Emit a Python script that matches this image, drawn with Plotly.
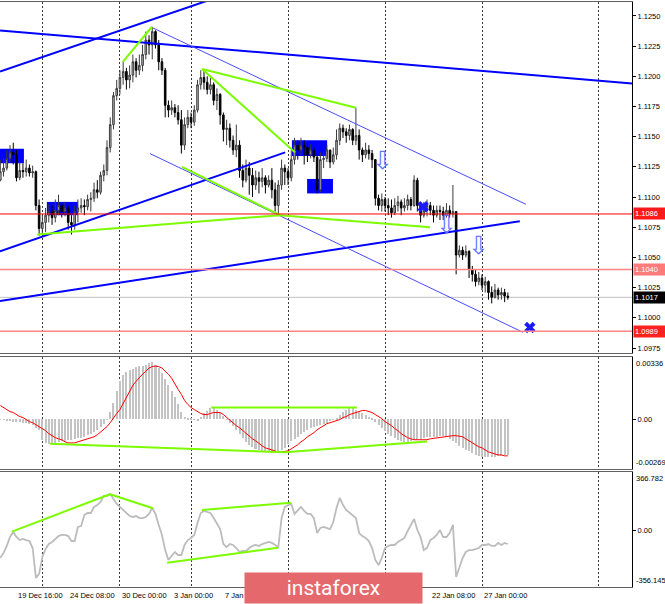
import plotly.graph_objects as go

# ---------------- data (EURUSD, H4 bars) ----------------
open_first = 1.1114
close = [
    1.1121, 1.1124, 1.1132, 1.1137, 1.1135, 1.1116, 1.1122, 1.1121, 1.1124, 1.1120,
    1.1121, 1.1093, 1.1074, 1.1079, 1.1085, 1.1088, 1.1083, 1.1089, 1.1093, 1.1088,
    1.1091, 1.1079, 1.1077, 1.1088, 1.1091, 1.1093, 1.1092, 1.1098, 1.1099, 1.1106,
    1.1104, 1.1118, 1.1122, 1.1141, 1.1160, 1.1184, 1.1190, 1.1199, 1.1204, 1.1197,
    1.1201, 1.1212, 1.1205, 1.1209, 1.1218, 1.1230, 1.1226, 1.1237, 1.1226, 1.1212,
    1.1205, 1.1176, 1.1172, 1.1174, 1.1170, 1.1164, 1.1143, 1.1160, 1.1166, 1.1162,
    1.1172, 1.1193, 1.1199, 1.1195, 1.1189, 1.1193, 1.1180, 1.1185, 1.1168, 1.1156,
    1.1157, 1.1147, 1.1139, 1.1143, 1.1122, 1.1114, 1.1124, 1.1118, 1.1110, 1.1116,
    1.1113, 1.1116, 1.1110, 1.1114, 1.1106, 1.1093, 1.1110, 1.1124, 1.1121, 1.1116,
    1.1131, 1.1143, 1.1139, 1.1143, 1.1141, 1.1135, 1.1139, 1.1133, 1.1106, 1.1131,
    1.1132, 1.1139, 1.1129, 1.1135, 1.1147, 1.1157, 1.1154, 1.1151, 1.1156, 1.1147,
    1.1151, 1.1139, 1.1135, 1.1139, 1.1136, 1.1131, 1.1099, 1.1093, 1.1098, 1.1093,
    1.1091, 1.1087, 1.1093, 1.1096, 1.1091, 1.1093, 1.1098, 1.1093, 1.1114, 1.1093,
    1.1085, 1.1089, 1.1093, 1.1089, 1.1085, 1.1089, 1.1088, 1.1085, 1.1089, 1.1086,
    1.1088, 1.1052, 1.1056, 1.1052, 1.1055, 1.1040, 1.1036, 1.1030, 1.1033, 1.1027,
    1.1030, 1.1021, 1.1017, 1.1023, 1.1019, 1.1021, 1.1018, 1.1017]
high = [
    1.1131, 1.1132, 1.1139, 1.1143, 1.1145, 1.1139, 1.1129, 1.1128, 1.1131, 1.1127,
    1.1126, 1.1122, 1.1098, 1.1085, 1.1091, 1.1094, 1.1093, 1.1098, 1.1102, 1.1095,
    1.1096, 1.1093, 1.1085, 1.1093, 1.1098, 1.1099, 1.1098, 1.1102, 1.1104, 1.1112,
    1.1114, 1.1121, 1.1127, 1.1147, 1.1166, 1.1187, 1.1197, 1.1205, 1.1212, 1.1207,
    1.1209, 1.1218, 1.1215, 1.1218, 1.1226, 1.1237, 1.1234, 1.1241, 1.1238, 1.1230,
    1.1215, 1.1207, 1.1180, 1.1180, 1.1177, 1.1176, 1.1172, 1.1166, 1.1172, 1.1170,
    1.1176, 1.1197, 1.1205, 1.1206, 1.1200, 1.1199, 1.1195, 1.1190, 1.1186, 1.1170,
    1.1164, 1.1161, 1.1151, 1.1160, 1.1147, 1.1127, 1.1131, 1.1129, 1.1124, 1.1122,
    1.1121, 1.1124, 1.1118, 1.1118, 1.1124, 1.1112, 1.1114, 1.1131, 1.1127, 1.1124,
    1.1139, 1.1149, 1.1147, 1.1149, 1.1147, 1.1145, 1.1144, 1.1141, 1.1135, 1.1137,
    1.1137, 1.1143, 1.1139, 1.1141, 1.1156, 1.1161, 1.1160, 1.1157, 1.1160, 1.1157,
    1.1174, 1.1156, 1.1141, 1.1145, 1.1143, 1.1139, 1.1131, 1.1102, 1.1103, 1.1100,
    1.1099, 1.1098, 1.1099, 1.1101, 1.1098, 1.1099, 1.1102, 1.1100, 1.1118, 1.1116,
    1.1093, 1.1096, 1.1098, 1.1096, 1.1093, 1.1093, 1.1093, 1.1092, 1.1095, 1.1093,
    1.1110, 1.1088, 1.1060, 1.1059, 1.1060, 1.1056, 1.1043, 1.1040, 1.1038, 1.1036,
    1.1034, 1.1031, 1.1026, 1.1028, 1.1025, 1.1025, 1.1024, 1.1021]
low = [
    1.1113, 1.1117, 1.1122, 1.1129, 1.1127, 1.1113, 1.1114, 1.1116, 1.1117, 1.1117,
    1.1116, 1.1089, 1.1068, 1.1069, 1.1071, 1.1079, 1.1077, 1.1079, 1.1085, 1.1083,
    1.1084, 1.1073, 1.1069, 1.1073, 1.1079, 1.1087, 1.1085, 1.1089, 1.1088, 1.1096,
    1.1099, 1.1102, 1.1113, 1.1118, 1.1137, 1.1156, 1.1180, 1.1185, 1.1193, 1.1189,
    1.1190, 1.1195, 1.1199, 1.1201, 1.1204, 1.1214, 1.1218, 1.1214, 1.1223, 1.1205,
    1.1201, 1.1166, 1.1166, 1.1168, 1.1166, 1.1160, 1.1136, 1.1139, 1.1157, 1.1157,
    1.1159, 1.1170, 1.1189, 1.1189, 1.1185, 1.1185, 1.1176, 1.1172, 1.1160, 1.1146,
    1.1143, 1.1141, 1.1135, 1.1133, 1.1116, 1.1108, 1.1112, 1.1102, 1.1100, 1.1106,
    1.1103, 1.1108, 1.1103, 1.1108, 1.1099, 1.1088, 1.1085, 1.1106, 1.1110, 1.1110,
    1.1113, 1.1127, 1.1131, 1.1135, 1.1127, 1.1129, 1.1132, 1.1129, 1.1103, 1.1104,
    1.1124, 1.1129, 1.1124, 1.1127, 1.1131, 1.1143, 1.1149, 1.1145, 1.1147, 1.1143,
    1.1143, 1.1131, 1.1129, 1.1132, 1.1131, 1.1124, 1.1093, 1.1089, 1.1088, 1.1088,
    1.1085, 1.1083, 1.1085, 1.1088, 1.1085, 1.1088, 1.1089, 1.1089, 1.1092, 1.1088,
    1.1079, 1.1083, 1.1084, 1.1085, 1.1079, 1.1083, 1.1081, 1.1081, 1.1083, 1.1083,
    1.1083, 1.1036, 1.1050, 1.1048, 1.1050, 1.1033, 1.1030, 1.1026, 1.1027, 1.1023,
    1.1021, 1.1015, 1.1012, 1.1016, 1.1015, 1.1015, 1.1013, 1.1015]

macd_hist = [
    -0.00002, -0.00002, -0.00008, -0.00008, -0.00013, -0.00013, -0.00013, -0.00019, -0.00019, -0.00024,
    -0.00029, -0.00046, -0.00057, -0.00111, -0.00128, -0.00133, -0.00133, -0.00128, -0.00122, -0.00117,
    -0.00117, -0.00111, -0.00111, -0.00106, -0.00100, -0.00100, -0.00095, -0.00084, -0.00078, -0.00068,
    -0.00057, -0.00040, -0.00024, -0.00002, 0.00041, 0.00090, 0.00150, 0.00205, 0.00238, 0.00254,
    0.00265, 0.00270, 0.00281, 0.00287, 0.00287, 0.00292, 0.00303, 0.00309, 0.00292, 0.00276,
    0.00249, 0.00216, 0.00183, 0.00150, 0.00118, 0.00080, 0.00041, 0.00014, 0.00003, 0.00003,
    -0.00002, -0.00008, 0.00014, 0.00031, 0.00047, 0.00058, 0.00063, 0.00052, 0.00036, 0.00020,
    -0.00002, -0.00019, -0.00035, -0.00057, -0.00078, -0.00100, -0.00122, -0.00138, -0.00149, -0.00160,
    -0.00166, -0.00171, -0.00177, -0.00177, -0.00182, -0.00182, -0.00177, -0.00166, -0.00155, -0.00133,
    -0.00117, -0.00106, -0.00095, -0.00078, -0.00068, -0.00057, -0.00046, -0.00040, -0.00035, -0.00029,
    -0.00024, -0.00019, -0.00008, -0.00002, 0.00009, 0.00025, 0.00041, 0.00052, 0.00058, 0.00063,
    0.00052, 0.00041, 0.00036, 0.00025, 0.00014, 0.00003, -0.00013, -0.00029, -0.00046, -0.00062,
    -0.00078, -0.00089, -0.00100, -0.00111, -0.00117, -0.00122, -0.00122, -0.00117, -0.00111, -0.00111,
    -0.00106, -0.00100, -0.00095, -0.00095, -0.00095, -0.00095, -0.00089, -0.00089, -0.00095, -0.00106,
    -0.00117, -0.00128, -0.00144, -0.00155, -0.00166, -0.00171, -0.00182, -0.00193, -0.00198, -0.00204,
    -0.00204, -0.00204, -0.00204, -0.00204, -0.00198, -0.00198, -0.00193, -0.00193]
macd_signal = [
    0.00074, 0.00063, 0.00052, 0.00041, 0.00036, 0.00025, 0.00014, 0.00009, -0.00002, -0.00013,
    -0.00019, -0.00029, -0.00040, -0.00051, -0.00062, -0.00078, -0.00089, -0.00100, -0.00106, -0.00111,
    -0.00122, -0.00128, -0.00128, -0.00128, -0.00122, -0.00117, -0.00111, -0.00106, -0.00100, -0.00095,
    -0.00084, -0.00068, -0.00057, -0.00040, -0.00019, 0.00009, 0.00031, 0.00052, 0.00085, 0.00118,
    0.00156, 0.00183, 0.00205, 0.00227, 0.00243, 0.00259, 0.00276, 0.00284, 0.00287, 0.00284,
    0.00276, 0.00259, 0.00243, 0.00221, 0.00189, 0.00161, 0.00134, 0.00101, 0.00080, 0.00063,
    0.00052, 0.00041, 0.00031, 0.00025, 0.00025, 0.00031, 0.00036, 0.00036, 0.00036, 0.00025,
    0.00009, -0.00002, -0.00019, -0.00035, -0.00046, -0.00062, -0.00078, -0.00089, -0.00106, -0.00117,
    -0.00133, -0.00144, -0.00155, -0.00160, -0.00166, -0.00171, -0.00177, -0.00177, -0.00174, -0.00171,
    -0.00160, -0.00149, -0.00138, -0.00122, -0.00111, -0.00095, -0.00084, -0.00073, -0.00057, -0.00046,
    -0.00035, -0.00024, -0.00019, -0.00013, -0.00008, -0.00002, 0.00009, 0.00014, 0.00025, 0.00031,
    0.00036, 0.00041, 0.00047, 0.00047, 0.00041, 0.00036, 0.00025, 0.00014, 0.00003, -0.00013,
    -0.00024, -0.00035, -0.00051, -0.00062, -0.00078, -0.00089, -0.00100, -0.00106, -0.00111, -0.00111,
    -0.00111, -0.00111, -0.00111, -0.00106, -0.00103, -0.00100, -0.00098, -0.00095, -0.00095, -0.00092,
    -0.00089, -0.00089, -0.00092, -0.00095, -0.00106, -0.00117, -0.00128, -0.00138, -0.00149, -0.00155,
    -0.00166, -0.00177, -0.00182, -0.00187, -0.00193, -0.00193, -0.00198, -0.00198]
cci = [
    -174, -142, -98, -42, -10, -42, -61, -54, -61, -67,
    -111, -299, -274, -168, -117, -86, -73, -54, -36, -29,
    -29, -36, -67, -67, 21, 27, 96, 109, 109, 147,
    159, 178, 216, 216, 228, 197, 166, 147, 128, 109,
    90, 84, 90, 77, 77, 84, 103, 141, 103, 34,
    -29, -124, -186, -161, -136, -155, -155, -92, -61, -48,
    -29, 46, 109, 122, 116, 109, 77, 40, 8, -86,
    -105, -86, -92, -111, -136, -130, -130, -111, -98, -92,
    -98, -86, -79, -73, -79, -92, -105, 77, 147, 159,
    166, 103, 128, 147, 122, 103, 103, 77, -17, 15,
    21, 15, 8, 52, 141, 204, 159, 128, 109, 90,
    77, -17, -36, -48, -67, -111, -186, -218, -174, -111,
    -98, -92, -92, -73, -61, -48, -4, 34, 72, 2,
    -42, -124, -111, -61, -48, -29, 2, -42, -42, -17,
    34, -293, -237, -174, -136, -124, -124, -117, -111, -92,
    -92, -86, -98, -98, -79, -92, -79, -86]

assert len(close) == len(high) == len(low) == len(macd_hist) == len(macd_signal) == len(cci)

# time axis (bar index): visible time labels and weekly grid
date_bars = [-11, 5, 21, 37, 53, 69, 133, 149]
date_labels = ["17 Dec 00:00", "19 Dec 16:00", "24 Dec 08:00", "30 Dec 00:00", "3 Jan 00:00",
               "7 Jan 16:00", "22 Jan 08:00", "27 Jan 00:00"]
grid_bars = [13, 37, 59, 89, 119, 149, 185]
x_range = [-0.1, 195.4]

price_ticks = [1.0975, 1.1000, 1.1025, 1.1050, 1.1075, 1.1100, 1.1125,
               1.1150, 1.1175, 1.1200, 1.1225, 1.1250]
price_range = [1.09709, 1.12615]
macd_range = [-0.00269, 0.00336]
cci_range = [-356.145, 366.782]

levels = [1.1086, 1.1040, 1.0989]
level_colors = ["#ff0000", "#ff8585", "#ff8585"]
level_label_bg = ["#ff1a1a", "#ff7a7a", "#ff2020"]
last_price = 1.1017

# analysis objects (bar index, price)
blue_thick = [[(-0.1, 1.1204), (70, 1.1268)],
              [(-0.1, 1.1238), (195.4, 1.1194)],
              [(-0.1, 1.1055), (88.1, 1.1137)],
              [(-0.1, 1.1014), (160.7, 1.1080)]]
blue_thin = [[(47.2, 1.1240), (162.6, 1.1094)],
             [(46.3, 1.1136), (161.7, 1.0988)]]
green_main = [[(37.9, 1.1212), (46.9, 1.1241)],
              [(62.4, 1.1206), (110.0, 1.1174)],
              [(62.4, 1.1206), (91.2, 1.1137)],
              [(56.2, 1.1125), (86.5, 1.1085)],
              [(11.4, 1.1069), (86.5, 1.1085), (132.9, 1.1075)]]
blue_zones = [(-0.1, 7.3, 1.1128, 1.1140), (14.4, 24.0, 1.1085, 1.1096),
              (90.2, 101.1, 1.1134, 1.1147), (94.9, 102.9, 1.1103, 1.1115)]
down_arrows = [(118.2, 1.1130), (137.9, 1.1077), (147.8, 1.1060)]
cross_marks = [(130.8, 1.1092), (163.8, 1.0992)]
green_macd = [[(65.2, 0.00063), (110.3, 0.00063)],
              [(15.4, -0.00133), (88.1, -0.00179), (132.0, -0.00121)]]
green_cci = [[(3.6, -8), (33.9, 227)],
             [(33.9, 227), (47.2, 139)],
             [(62.4, 128), (89.9, 174)],
             [(51.6, -203), (85.9, -109)]]

# ---------------- figure ----------------
bars = list(range(len(close)))
opens = [open_first] + close[:-1]
FONT = "Liberation Sans, Arial, sans-serif"
GREEN = "#7CFC00"

fig = go.Figure()

fig.add_trace(go.Candlestick(
    x=bars, open=opens, high=high, low=low, close=close,
    increasing=dict(line=dict(color="#3c3c3c", width=1), fillcolor="#bdbdbd"),
    decreasing=dict(line=dict(color="#000000", width=1), fillcolor="#000000"),
    xaxis="x", yaxis="y", hoverinfo="skip"))

def add_lines(groups, color, width, xa, ya):
    for g in groups:
        fig.add_trace(go.Scatter(x=[p[0] for p in g], y=[p[1] for p in g], mode="lines",
                                 line=dict(color=color, width=width), xaxis=xa, yaxis=ya,
                                 hoverinfo="skip"))

add_lines(blue_thick, "#0000ff", 2, "x", "y")
add_lines(blue_thin, "#4a4aff", 1, "x", "y")
add_lines(green_main, GREEN, 2, "x", "y")

fig.add_trace(go.Scatter(x=[c[0] for c in cross_marks], y=[c[1] for c in cross_marks],
                         mode="markers", marker=dict(symbol="x", size=10, color="#1a1aff"),
                         xaxis="x", yaxis="y", hoverinfo="skip", cliponaxis=False))

# MACD panel
fig.add_trace(go.Bar(x=bars, y=macd_hist, width=0.62, marker=dict(color="#c3c3c3", line=dict(width=0)),
                     xaxis="x2", yaxis="y2", hoverinfo="skip"))
fig.add_trace(go.Scatter(x=bars, y=macd_signal, mode="lines", line=dict(color="#ff0000", width=1),
                         xaxis="x2", yaxis="y2", hoverinfo="skip"))
add_lines(green_macd, GREEN, 2, "x2", "y2")

# CCI panel
fig.add_trace(go.Scatter(x=bars, y=cci, mode="lines", line=dict(color="#bcbcbc", width=1.8),
                         xaxis="x3", yaxis="y3", hoverinfo="skip"))
add_lines(green_cci, GREEN, 2, "x3", "y3")

shapes = []
for x0, x1, y0, y1 in blue_zones:
    shapes.append(dict(type="rect", xref="x", yref="y", x0=x0, x1=x1, y0=y0, y1=y1,
                       fillcolor="#0000ff", line=dict(width=0), layer="below"))
shapes.append(dict(type="line", xref="x domain", yref="y", x0=0, x1=1, y0=last_price, y1=last_price,
                   line=dict(color="#c0c0c0", width=1), layer="below"))
for lv, col in zip(levels, level_colors):
    shapes.append(dict(type="line", xref="x domain", yref="y", x0=0, x1=1, y0=lv, y1=lv,
                       line=dict(color=col, width=1.5 if col != "#ff0000" else 1)))

annotations = []
for a in down_arrows:
    annotations.append(dict(x=a[0], y=a[1], xref="x", yref="y", text="⇩", showarrow=False,
                            font=dict(family="DejaVu Sans", size=25, color="#5f78ff")))
for lv, bg in zip(levels, level_label_bg):
    annotations.append(dict(x=1, y=lv, xref="paper", yref="y", xanchor="left", xshift=1,
                            text=f"{lv:.4f}", showarrow=False, bgcolor=bg, borderpad=1,
                            width=31, align="left", font=dict(family=FONT, size=7.5, color="white")))
annotations.append(dict(x=1, y=last_price, xref="paper", yref="y", xanchor="left", xshift=1,
                        text=f"{last_price:.4f}", showarrow=False, bgcolor="#000000", borderpad=1,
                        width=31, align="left", font=dict(family=FONT, size=7.5, color="white")))
# indicator scale extremes
for txt, yref, yv, ya in [(f"{macd_range[1]:.5f}", "y2 domain", 1, "top"),
                          (f"{macd_range[0]:.5f}", "y2 domain", 0, "bottom"),
                          (f"{cci_range[1]:.3f}", "y3 domain", 1, "top"),
                          (f"{cci_range[0]:.3f}", "y3 domain", 0, "bottom")]:
    annotations.append(dict(x=1, y=yv, xref="paper", yref=yref, xanchor="left", yanchor=ya,
                            xshift=2, text=txt, showarrow=False,
                            font=dict(family=FONT, size=7.5, color="#000")))
# time labels
for b, lab in zip(date_bars, date_labels):
    annotations.append(dict(x=b, y=0, xref="x3", yref="paper", xanchor="left", yanchor="top",
                            yshift=-2, text=lab, showarrow=False,
                            font=dict(family="Liberation Sans Narrow, Liberation Sans, Arial", size=7.5,
                                      color="#000")))
# watermark
annotations.append(dict(x=333 / 632, y=-0.0012, xref="paper", yref="paper", xanchor="center",
                        yanchor="middle", text="instaforex", showarrow=False, width=177, height=30,
                        borderpad=0, bgcolor="#e5686d",
                        font=dict(family="Roboto, Open Sans, sans-serif", size=21, color="white")))

xcommon = dict(range=x_range, tickvals=grid_bars, showticklabels=False, ticks="",
               showgrid=True, gridcolor="#3a3a3a", griddash="2px,2px", gridwidth=1,
               zeroline=False, showline=True, mirror=True, linecolor="#606060", linewidth=1,
               domain=[0, 1])
ycommon = dict(side="right", showgrid=False, zeroline=False, showline=True, linecolor="#000",
               ticks="outside", ticklen=3, tickcolor="#000", tickfont=dict(family=FONT, size=7.5,
                                                                        color="#000"))

fig.update_layout(
    width=665, height=604, margin=dict(l=0, r=33, t=2, b=17),
    paper_bgcolor="white", plot_bgcolor="white", showlegend=False, hovermode=False,
    bargap=0,
    xaxis=dict(**xcommon, anchor="y", rangeslider=dict(visible=False)),
    xaxis2=dict(**xcommon, anchor="y2", matches="x"),
    xaxis3=dict(**xcommon, anchor="y3", matches="x"),
    yaxis=dict(**ycommon, domain=[0.4, 1.0], range=price_range, anchor="x",
               tickvals=price_ticks, ticktext=[f"{v:.4f}" for v in price_ticks]),
    yaxis2=dict(**ycommon, domain=[0.2017, 0.3932], range=macd_range, anchor="x2",
                tickvals=[0], ticktext=["0.00"]),
    yaxis3=dict(**ycommon, domain=[0.0, 0.1966], range=cci_range, anchor="x3",
                tickvals=[0], ticktext=["0.00"]),
    shapes=shapes, annotations=annotations,
)

fig.write_html("out.html", config={"displayModeBar": False},
               post_script="document.body.style.margin='0';document.body.style.overflow='hidden';")
